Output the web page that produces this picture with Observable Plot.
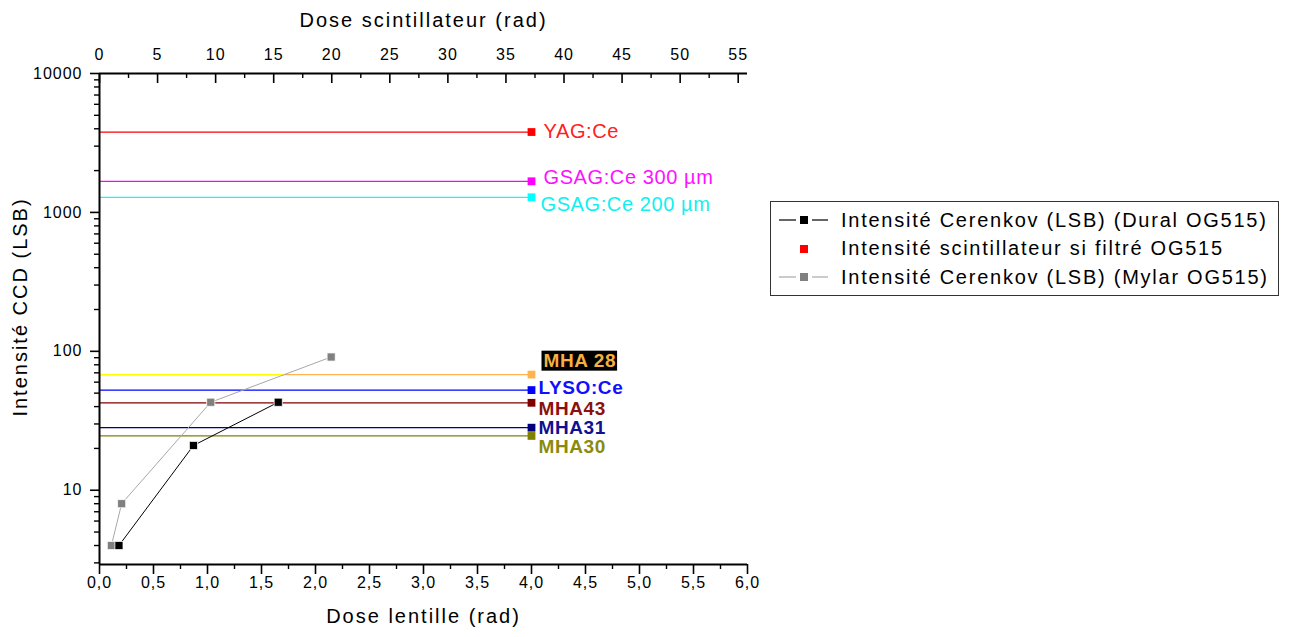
<!DOCTYPE html>
<html>
<head>
<meta charset="utf-8">
<script src="https://cdn.jsdelivr.net/npm/d3@7"></script>
<script src="https://cdn.jsdelivr.net/npm/@observablehq/plot@0.6"></script>
<style>
  html, body { margin: 0; padding: 0; background: #fff; }
  #wrap { position: relative; width: 1290px; height: 637px; overflow: hidden; font-family: "Liberation Sans", Arial, sans-serif; }
  #chart { position: absolute; left: 0; top: 0; }
  #chart svg text { letter-spacing: 1px; }
  #chart svg .axtitle text { letter-spacing: 2px; }
  #chart svg .reflabel text { letter-spacing: 0.6px; }
  .legend { position: absolute; left: 770px; top: 201px; width: 509px; height: 95px; border: 1px solid #333; box-sizing: border-box; background: #fff; }
  .legend .row { position: absolute; left: 0; height: 28px; display: flex; align-items: center; font-size: 20px; letter-spacing: 1.75px; color: #000; white-space: nowrap; }
  .legend svg { width: 70px; height: 28px; flex: none; }
</style>
</head>
<body>
<div id="wrap">
  <div id="chart"></div>
  <div class="legend" id="legend"></div>
</div>
<script>
// ---- data ----
const lensDoseDural = [0.18, 0.87, 1.655];
const intensityDural = [4.0, 21, 43];
const lensDoseMylar = [0.11, 0.205, 1.03, 2.145];
const intensityMylar = [4.0, 8.0, 43, 91];

const refNames = ["YAG:Ce", "GSAG:Ce 300 µm", "GSAG:Ce 200 µm", "MHA 28", "LYSO:Ce", "MHA43", "MHA31", "MHA30"];
const refIntensity = [3790, 1675, 1285, 68, 52.6, 42.6, 28.2, 24.6];
const refDose = 4.0;          // lens dose where the scintillator markers sit
const mha28YellowUntil = 1.72; // yellow part of the MHA 28 line

const scintPerLens = 9.3;     // top axis: scintillator dose per lens dose
const scintTicks = [0, 5, 10, 15, 20, 25, 30, 35, 40, 45, 50, 55];
const lensTicks = [0, 0.5, 1, 1.5, 2, 2.5, 3, 3.5, 4, 4.5, 5, 5.5, 6];
const yTicks = [10, 100, 1000, 10000];

const legendLabels = [
  "Intensité Cerenkov (LSB) (Dural OG515)",
  "Intensité scintillateur si filtré OG515",
  "Intensité Cerenkov (LSB) (Mylar OG515)"
];

// ---- styles ----
const refColors = ["#ff0000", "#ff00ff", "#00ffff", "#ffb450", "#0000ff", "#800000", "#000080", "#808000"];
const refTextColors = ["#ff2020", "#ff10ff", "#10f0f0", "#f5b041", "#1010ff", "#8b1010", "#101090", "#8a8a10"];
const refLabelDx = [12, 12, 9, 12, 7, 7, 7, 7];
const refLabelDy = [0, -4, 7, -14, -2, 6, 0, 11];
const refLabelBold = [false, false, false, true, true, true, true, true];

const FONT = "Liberation Sans, Arial, sans-serif";

const refData = refNames.map((name, i) => ({name, v: refIntensity[i], i}));
const dural = lensDoseDural.map((x, i) => ({x, y: intensityDural[i]}));
const mylar = lensDoseMylar.map((x, i) => ({x, y: intensityMylar[i]}));

const yDomain = [2.92, 10000];
const minorY = [];
for (const d of [1, 10, 100, 1000]) for (let m = 2; m <= 9; m++) { const v = d * m; if (v >= yDomain[0] && v <= yDomain[1]) minorY.push(v); }
const minorX = d3.range(0.25, 6, 0.5);
const scintMinor = d3.range(2.5, 57.5, 5).map(t => t / scintPerLens).filter(x => x <= 6);

const plotTop = 73, plotBottom = 564;
const innerH = plotBottom - plotTop;
const noLabel = () => "";

const chart = Plot.plot({
  width: 1290,
  height: 637,
  marginLeft: 99,
  marginRight: 543,
  marginTop: plotTop,
  marginBottom: 637 - plotBottom,
  style: {fontFamily: FONT, fontSize: "16px", color: "#000", background: "#fff", overflow: "visible"},
  x: {domain: [0, 6], axis: null},
  y: {type: "log", domain: yDomain, axis: null},
  color: {type: "identity"},
  marks: [
    // reference lines
    Plot.ruleY(refData, {y: "v", x1: 0, x2: refDose, stroke: d => refColors[d.i], strokeWidth: 1.2}),
    Plot.ruleY(refData.filter(d => d.name === "MHA 28"), {y: "v", x1: 0, x2: mha28YellowUntil, stroke: "#ffff00", strokeWidth: 1.2}),
    // series lines
    Plot.line(mylar, {x: "x", y: "y", stroke: "#a8a8a8", strokeWidth: 1}),
    Plot.line(dural, {x: "x", y: "y", stroke: "#000", strokeWidth: 1}),
    Plot.dot(mylar, {x: "x", y: "y", symbol: "square", r: 4.6, fill: "#808080", stroke: "#fff", strokeWidth: 0.8}),
    Plot.dot(dural, {x: "x", y: "y", symbol: "square", r: 4.6, fill: "#000", stroke: "#fff", strokeWidth: 0.8}),
    // reference markers
    Plot.dot(refData, {x: () => refDose, y: "v", symbol: "square", r: 4.4, fill: d => refColors[d.i]}),
    // reference labels
    ...refData.map(d => Plot.text([d], {
      x: () => refDose, y: "v", text: "name",
      fill: refTextColors[d.i], textAnchor: "start",
      dx: refLabelDx[d.i], dy: refLabelDy[d.i],
      fontSize: refLabelBold[d.i] ? 19 : 20,
      fontWeight: refLabelBold[d.i] ? "bold" : "normal",
      className: d.name === "MHA 28" ? "reflabel mha28" : "reflabel"
    })),
    // frame lines
    Plot.ruleX([0], {stroke: "#000", strokeWidth: 2}),
    Plot.ruleY([yDomain[0]], {stroke: "#000", strokeWidth: 2, x1: 0, x2: 6}),
    Plot.ruleY([yDomain[1]], {stroke: "#000", strokeWidth: 2, x1: 0, x2: 6}),
    // left axis
    Plot.axisY({ticks: yTicks, tickSize: 9, tickPadding: 8, tickFormat: d => String(d), strokeWidth: 1.6, fontSize: 16, label: null}),
    Plot.axisY({ticks: minorY, tickSize: 5, tickFormat: noLabel, strokeWidth: 1.4, label: null}),
    // bottom axis
    Plot.axisX({ticks: lensTicks, tickSize: 10, tickPadding: 2, tickFormat: d => d.toFixed(1).replace(".", ","), strokeWidth: 1.6, fontSize: 16, label: null}),
    Plot.axisX({ticks: minorX, tickSize: 5, tickFormat: noLabel, strokeWidth: 1.4, label: null}),
    // top axis (scintillator dose)
    Plot.axisX({anchor: "top", ticks: scintTicks.map(t => t / scintPerLens), tickSize: 0, tickPadding: 14, tickFormat: d => String(Math.round(d * scintPerLens)), fontSize: 16, label: null}),
    Plot.ruleX(scintTicks.map(t => t / scintPerLens), {x: d => d, stroke: "#000", strokeWidth: 1.6, insetBottom: innerH - 10}),
    Plot.ruleX(scintMinor, {x: d => d, stroke: "#000", strokeWidth: 1.4, insetBottom: innerH - 5}),
    // axis titles
    Plot.text(["Dose lentille (rad)"], {frameAnchor: "bottom", lineAnchor: "middle", textAnchor: "middle", text: d => d, dy: 52, fontSize: 20, fill: "#000", className: "axtitle"}),
    Plot.text(["Dose scintillateur (rad)"], {frameAnchor: "top", lineAnchor: "middle", textAnchor: "middle", text: d => d, dy: -53, fontSize: 20, fill: "#000", className: "axtitle"}),
    Plot.text(["Intensité CCD (LSB)"], {frameAnchor: "left", lineAnchor: "middle", textAnchor: "middle", text: d => d, dx: -79, dy: -12, rotate: -90, fontSize: 20, fill: "#000", className: "axtitle"})
  ]
});
document.getElementById("chart").appendChild(chart);

// black background box behind "MHA 28"
const t28 = chart.querySelector("g.mha28 text");
if (t28) {
  const bb = t28.getBBox();
  const r = document.createElementNS("http://www.w3.org/2000/svg", "rect");
  r.setAttribute("x", bb.x - 2);
  r.setAttribute("y", bb.y + 1);
  r.setAttribute("width", bb.width + 3);
  r.setAttribute("height", bb.height - 1);
  r.setAttribute("fill", "#000");
  const tr = t28.getAttribute("transform");
  if (tr) r.setAttribute("transform", tr);
  t28.parentNode.insertBefore(r, t28);
}

// legend
const legend = document.getElementById("legend");
const symbols = [
  {line: "#000", square: "#000"},
  {line: null, square: "#ff0000"},
  {line: "#a8a8a8", square: "#808080"}
];
legendLabels.forEach((lab, i) => {
  const row = document.createElement("div");
  row.className = "row";
  row.style.top = (4 + i * 28.5) + "px";
  const s = symbols[i];
  let svg = `<svg viewBox="0 0 70 28">`;
  if (s.line) {
    svg += `<line x1="8" x2="25" y1="14" y2="14" stroke="${s.line}" stroke-width="1.2"/>`;
    svg += `<line x1="41" x2="57" y1="14" y2="14" stroke="${s.line}" stroke-width="1.2"/>`;
  }
  svg += `<rect x="29" y="10" width="8" height="8" fill="${s.square}"/></svg>`;
  row.innerHTML = svg + `<span>${lab}</span>`;
  legend.appendChild(row);
});
</script>
</body>
</html>
